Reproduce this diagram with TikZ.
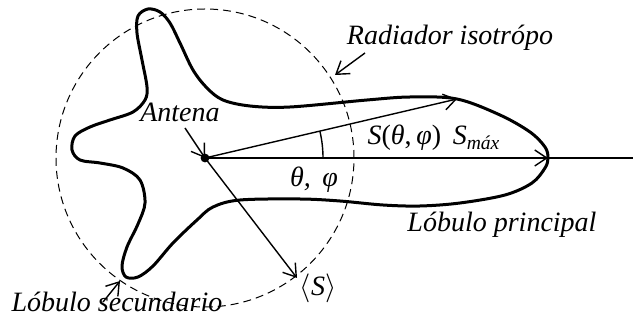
\documentclass[tikz,border=0pt]{standalone}
\usepackage{fontspec}
\setmainfont{Liberation Serif}
\usetikzlibrary{arrows.meta, positioning}

\begin{document}
\begin{tikzpicture}[x=0.5pt, y=-0.5pt,
    lobe/.style={line width=1.5pt, line join=round},
    ray/.style={line width=0.7pt, -{Straight Barb[length=6pt, width=8pt]}},
    pointer/.style={line width=0.7pt, -{Straight Barb[length=6pt, width=8pt]}},
    lbl/.style={font=\fontsize{14}{16}\selectfont\itshape, inner sep=1pt}]
        \useasboundingbox (0,0) rectangle (633,331);

        % antena e isotropo
        \coordinate (O) at (205,158);
        \draw[dash pattern=on 4pt off 2.5pt, line width=0.5pt] (O) circle[radius=74.5pt];

        % diagrama de radiacion
        \draw[lobe] plot[smooth cycle, tension=0.55] coordinates {
            (147,87) (142,60) (137,33) (138,16) (148,9) (160,12) (170,23)
            (180,43) (193,70) (207,88) (223,100) (250,106) (290,107)
            (367,100) (410,97) (457,99) (500,115) (530,132) (545,147) (548,158)
            (545,168) (532,183) (505,195) (460,203) (420,206) (383,205)
            (340,201) (300,199) (240,200) (213,207) (197,220) (173,243)
            (153,266) (138,277) (126,277) (122,266) (127,247) (138,224)
            (145,203) (140,180) (123,168) (100,163) (80,160) (72,150)
            (75,136) (90,127) (110,120) (133,112) (145,100)};

        % vectores
        \coordinate (Smax) at (548,158);
        \coordinate (Sth) at (457,99);
        \coordinate (Smed) at (297,278);
        \coordinate (eje) at (633,158);
        \draw[ray] (O) -- (Smax);
        \draw[line width=0.7pt] (Smax) -- (eje);
        \draw[ray] (O) -- (Sth);
        \draw[ray] (O) -- (Smed);
        \draw[line width=0.7pt] ([shift={(0:59pt)}]O) arc (0:13.2:59pt);
        \fill (O) circle[radius=2.2pt];

        % etiquetas
        \node[lbl, anchor=base] (ant) at (180,122) {Antena};
        \draw[pointer] (185,128) -- (O);
        \node[lbl, anchor=base] (iso) at (450,45) {Radiador isotrópo};
        \coordinate (isoP) at (335,75);
        \draw[pointer] (365,53) -- (isoP);
        \node[lbl, anchor=base] (sec) at (117,312) {Lóbulo secundario};
        \coordinate (secP) at (120,281);
        \draw[pointer] (103,302) -- (secP);
        \node[lbl, anchor=base] (ppal) at (502,232) {Lóbulo principal};
        \node[lbl, anchor=base, font=\fontsize{14}{16}\selectfont] (dens) at (434,145)
            {\textit{S}(\textit{θ},\,\textit{φ})\, \textit{S}\textsubscript{\textit{máx}}};
        \node[lbl, anchor=base] (ang) at (314,187) {θ,\, φ};
        \node[lbl, anchor=base, font=\fontsize{14}{16}\selectfont] (med) at (318,296)
            {$\langle$\textit{S}$\rangle$};
\end{tikzpicture}
\end{document}
